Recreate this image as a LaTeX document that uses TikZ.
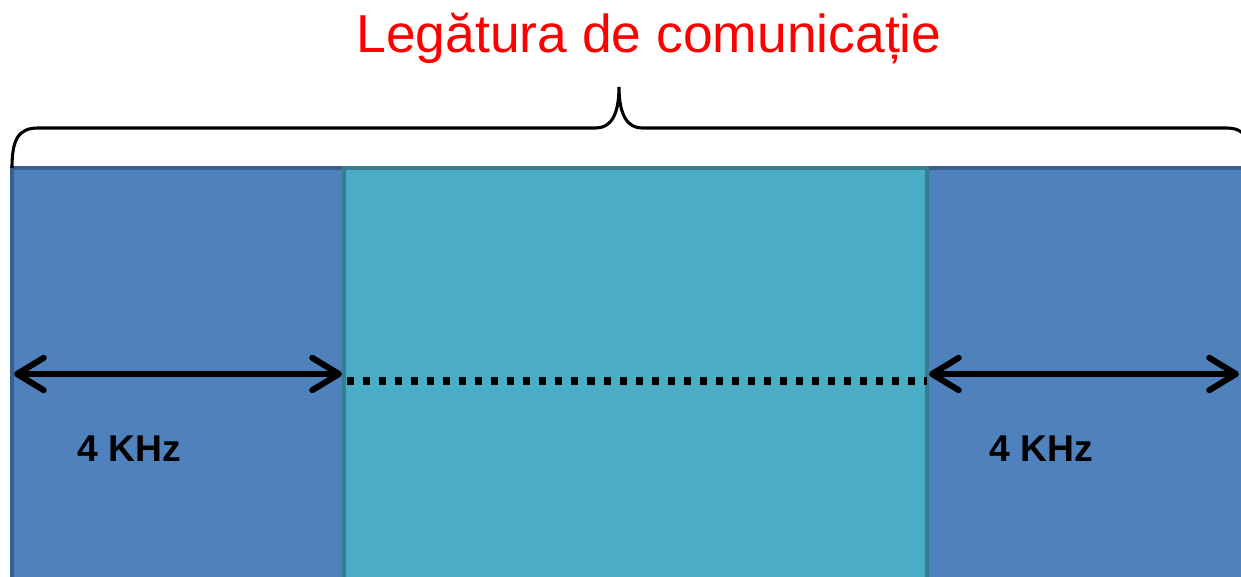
\documentclass[tikz,border=0pt]{standalone}
\usepackage{fontspec}
\setmainfont{Liberation Sans}
\usetikzlibrary{arrows.meta}
\definecolor{bandblue}{HTML}{4F81BD}
\definecolor{bandblueedge}{HTML}{3B5F8C}
\definecolor{bandaqua}{HTML}{4BACC6}
\definecolor{bandaquaedge}{HTML}{357E90}
\tikzset{
	blueband/.style={fill=bandblue, draw=bandblueedge, line width=2.8pt},
	aquaband/.style={fill=bandaqua, draw=bandaquaedge, line width=2.8pt},
	brace line/.style={draw=black, line width=2.2pt},
	span arrow/.style={line width=4.3pt, {Straight Barb[length=19pt,width=23pt,round]}-{Straight Barb[length=19pt,width=23pt,round]}},
	dot line/.style={line width=5pt, dash pattern=on 5pt off 6.4pt},
	title text/.style={text=red, font=\fontsize{38}{42}\selectfont, inner sep=0pt},
	khz text/.style={text=black, font=\fontsize{26.5}{30}\selectfont\bfseries, inner sep=0pt}
}
\begin{document}
\begin{tikzpicture}[x=0.025cm,y=-0.025cm]
	\useasboundingbox (0,0) rectangle (1241,577);
	% bands
	\draw[blueband] (12,168) rectangle (344,620);
	\draw[blueband] (927,168) rectangle (1300,620);
	\draw[aquaband] (344,168) rectangle (927,620);
	% brace
	\draw[brace line] (12,168) .. controls (12,140) and (18,128) .. (38,128) -- (596,128) .. controls (610,128) and (619,116) .. (619,87) .. controls (619,116) and (628,128) .. (642,128) -- (1226,128) .. controls (1246,128) and (1252,140) .. (1252,168);
	\node[title text, anchor=base] (title) at (649,53) {Legătura de comunicație};
	% arrows
	\coordinate (leftA) at (14,374);
	\coordinate (leftB) at (342,374);
	\coordinate (rightA) at (929,374);
	\coordinate (rightB) at (1239,374);
	\coordinate (dotA) at (347,381);
	\coordinate (dotB) at (927,381);
	\draw[span arrow] (leftA) -- (leftB);
	\draw[span arrow] (rightA) -- (rightB);
	\draw[dot line] (dotA) -- (dotB);
	\node[khz text, anchor=base] (leftkhz) at (129,461) {4 KHz};
	\node[khz text, anchor=base] (rightkhz) at (1041,461) {4 KHz};
\end{tikzpicture}
\end{document}
